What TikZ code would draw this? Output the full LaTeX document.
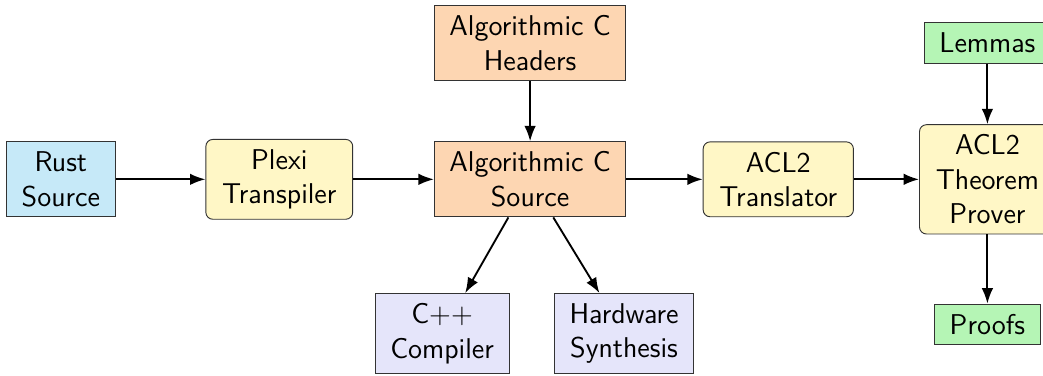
\documentclass[tikz,border=0pt]{standalone}
\usepackage{xcolor}
\usetikzlibrary{arrows.meta, positioning, calc}
\definecolor{rustblue}{HTML}{C6E9F8}
\definecolor{toolyellow}{HTML}{FFF7C6}
\definecolor{acorange}{HTML}{FDD6B2}
\definecolor{backend}{HTML}{E5E5FA}
\definecolor{proofgreen}{HTML}{B5F5B5}

\begin{document}
\begin{tikzpicture}[font=\sffamily\fontsize{12.3}{14.8}\selectfont,
    box/.style={draw=black!80, align=center, inner xsep=6.5pt, inner ysep=4.3pt},
    tool/.style={box, rounded corners=3pt, inner xsep=7pt, fill=toolyellow},
    flow/.style={-Latex, thick}]
    \useasboundingbox (0,0) rectangle (15.76,5.67);
    % sources and tools
    \node[box, fill=rustblue] (rust) at (0.92,2.96) {Rust\\Source};
    \node[tool] (plexi) at (4.22,2.96) {Plexi\\Transpiler};
    \node[box, fill=acorange] (acsrc) at (8.01,2.96) {Algorithmic C\\Source};
    \node[box, fill=acorange] (achdr) at (8.01,5.02) {Algorithmic C\\Headers};
    \node[box, fill=backend] (cpp) at (6.68,0.63) {C++\\Compiler};
    \node[box, fill=backend] (hw) at (9.43,0.63) {Hardware\\Synthesis};
    \node[tool] (trans) at (11.76,2.96) {ACL2\\Translator};
    \node[tool] (prover) at (14.92,2.96) {ACL2\\Theorem\\Prover};
    \node[box, fill=proofgreen] (lemmas) at (14.92,5.02) {Lemmas};
    \node[box, fill=proofgreen] (proofs) at (14.92,0.77) {Proofs};

    \draw[flow] (rust) -- (plexi);
    \draw[flow] (plexi) -- (acsrc);
    \draw[flow] (achdr) -- (acsrc);
    \draw[flow] (acsrc) -- (cpp);
    \draw[flow] (acsrc) -- (hw);
    \draw[flow] (acsrc) -- (trans);
    \draw[flow] (trans) -- (prover);
    \draw[flow] (lemmas) -- (prover);
    \draw[flow] (prover) -- (proofs);
\end{tikzpicture}
\end{document}
